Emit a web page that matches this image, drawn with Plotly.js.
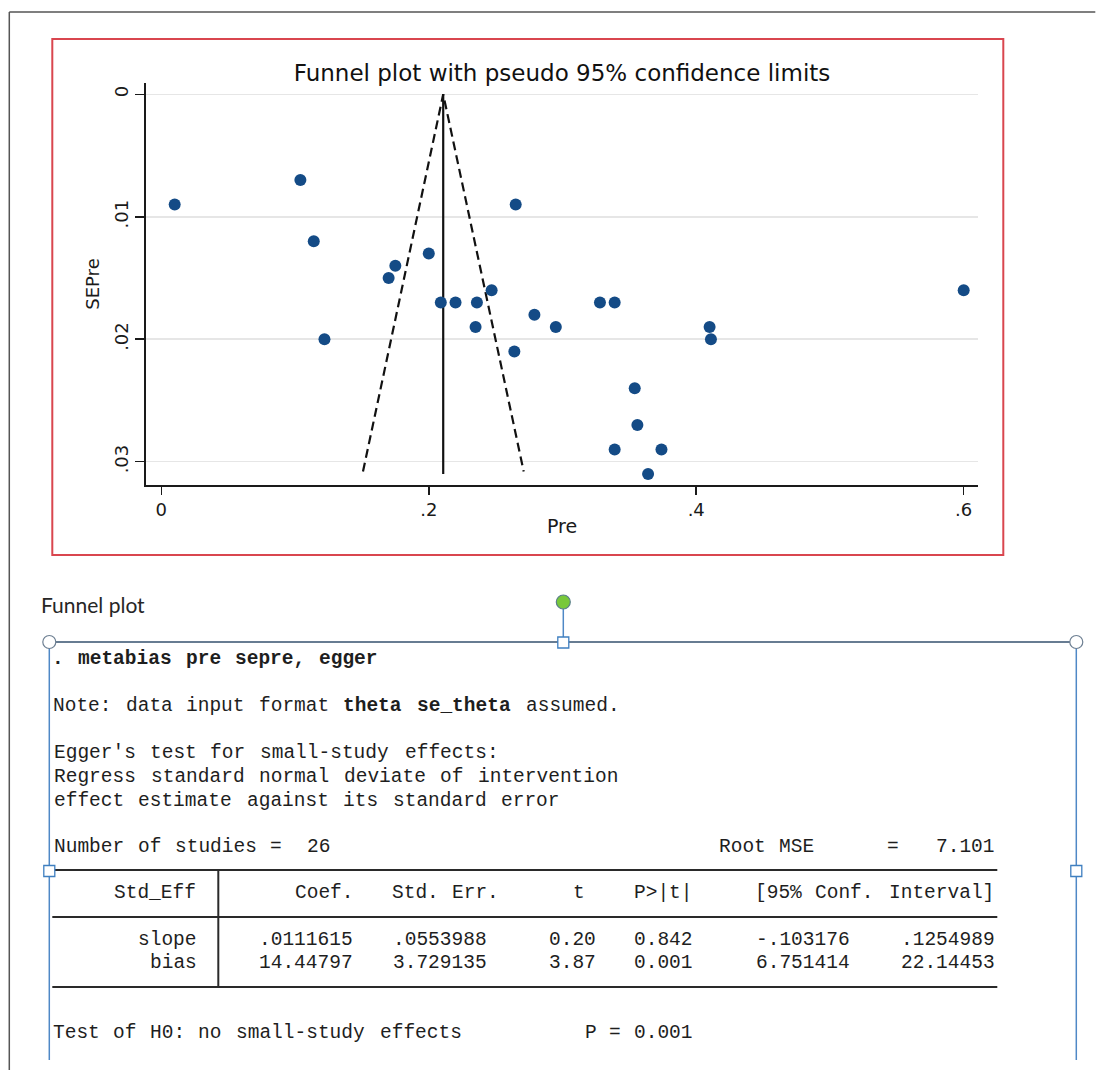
<!DOCTYPE html>
<html><head><meta charset="utf-8">
<script src="https://cdn.plot.ly/plotly-3.0.1.min.js"></script>
<style>html,body{margin:0;padding:0;background:#fff;}#chart{width:1104px;height:1070px;}</style>
</head><body><div id="chart"></div>
<script>
// ---------------- Funnel plot data ----------------
const pre   = [0.010, 0.104, 0.114, 0.122, 0.170, 0.175, 0.200, 0.209, 0.220, 0.236, 0.235, 0.247, 0.265,
               0.264, 0.279, 0.295, 0.328, 0.339, 0.339, 0.354, 0.356, 0.364, 0.374, 0.410, 0.411, 0.600];
const sepre = [0.009, 0.007, 0.012, 0.020, 0.015, 0.014, 0.013, 0.017, 0.017, 0.017, 0.019, 0.016, 0.009,
               0.021, 0.018, 0.019, 0.017, 0.017, 0.029, 0.024, 0.027, 0.031, 0.029, 0.019, 0.020, 0.016];
const funnelLimitX  = [0.1508, 0.2108, 0.2710];
const funnelLimitSE = [0.0308, 0, 0.0308];
const pooledX  = [0.2108, 0.2108];
const pooledSE = [0, 0.0310];
const xTickVals = [0, 0.2, 0.4, 0.6];
const xTickText = ['0', '.2', '.4', '.6'];
const yTickVals = [0, 0.01, 0.02, 0.03];
const yTickText = ['0', '.01', '.02', '.03'];

// ---------------- Egger test output ----------------
const nStudies = '26';
const rootMSE = '7.101';
const headerLabel = 'Std_Eff';
const headerCols = ['Coef.', 'Std. Err.', 't', 'P>|t|', '[95% Conf. Interval]'];
const rowLabels = ['slope', 'bias'];
const coef   = ['.0111615', '14.44797'];
const stdErr = ['.0553988', '3.729135'];
const tStat  = ['0.20', '3.87'];
const pValue = ['0.842', '0.001'];
const ciLow  = ['-.103176', '6.751414'];
const ciHigh = ['.1254989', '22.14453'];
const testP  = '0.001';

// ---------------- geometry helpers (plot area in page pixels) ----------------
const W = 1104, H = 1070;
const L = 145.7, R = 977.7, T = 83, B = 485;
const px = x => (x - L) / (R - L);
const py = y => (B - y) / (B - T);

// monospace text grid of the Stata output
const COL0 = 52, CW = 12.1;
function blank(){ return Array(80).fill(' '); }
function putL(arr, s, col){ for (let i=0;i<s.length;i++) arr[col+i]=s[i]; return arr; }
function putR(arr, s, endCol){ return putL(arr, s, endCol - s.length); }
const textLines = [];
textLines.push({y:659, s:'. metabias pre sepre, egger', bold:'all'});
textLines.push({y:706, s:'Note: data input format theta se_theta assumed.', bold:['theta','se_theta']});
textLines.push({y:753, s:"Egger's test for small-study effects:"});
textLines.push({y:777, s:'Regress standard normal deviate of intervention'});
textLines.push({y:800.5, s:'effect estimate against its standard error'});
{
  let a = blank(); putL(a,'Number of studies =',0); putR(a,nStudies,23);
  putL(a,'Root MSE',55); putL(a,'=',69); putR(a,rootMSE,78);
  textLines.push({y:846.5, s:a.join('')});
}
{
  let a = blank(); putR(a,headerLabel,12);
  const ends = [25,37,44,53,78];
  headerCols.forEach((h,i)=>putR(a,h,ends[i]));
  textLines.push({y:893, s:a.join('')});
}
rowLabels.forEach((lab,r)=>{
  let a = blank(); putR(a,lab,12);
  putR(a,coef[r],25); putR(a,stdErr[r],36); putR(a,tStat[r],45);
  putR(a,pValue[r],53); putR(a,ciLow[r],66); putR(a,ciHigh[r],78);
  textLines.push({y:[940,963.5][r], s:a.join('')});
});
{
  let a = blank(); putL(a,'Test of H0: no small-study effects',0); putL(a,'P = '+testP,44);
  textLines.push({y:1033, s:a.join('')});
}
function esc(t){ return t.replace(/&/g,'&amp;').replace(/</g,'&lt;').replace(/>/g,'&gt;'); }
const annotations = [];
textLines.forEach(line=>{
  const re = /\S+/g; let m;
  while ((m = re.exec(line.s)) !== null) {
    const tok = m[0];
    const isBold = line.bold === 'all' || (Array.isArray(line.bold) && line.bold.includes(tok));
    annotations.push({
      xref:'paper', yref:'paper', showarrow:false,
      x: px(COL0 + (m.index + tok.length/2)*CW), y: py(line.y),
      xanchor:'center', yanchor:'middle',
      text: isBold ? '<b>'+esc(tok)+'</b>' : esc(tok),
      font:{family:'Liberation Mono, monospace', size:19.5, color:'#1e1e1e'}
    });
  }
});
annotations.push({
  xref:'paper', yref:'paper', showarrow:false, x:px(39), y:py(604),
  xanchor:'left', yanchor:'middle', text:'Funnel plot',
  font:{family:'Lato, Noto Sans, sans-serif', size:21, color:'#262626'}
});

// ---------------- decorative shapes ----------------
const shapes = [];
function ln(x0,y0,x1,y1,color,width){ shapes.push({type:'line',xref:'paper',yref:'paper',x0:px(x0),y0:py(y0),x1:px(x1),y1:py(y1),line:{color:color,width:width},layer:'above'}); }
function box(type,x0,y0,x1,y1,color,width,fill){ shapes.push({type:type,xref:'paper',yref:'paper',x0:px(x0),y0:py(y1),x1:px(x1),y1:py(y0),line:{color:color,width:width},fillcolor:fill,layer:'above'}); }
// outer frame
ln(9,12,1095,12,'#555',1.5);
ln(9,12,9,1070,'#555',1.5);
// red frame around graph
box('rect',52,39,1003,555,'#d9464f',2,'rgba(0,0,0,0)');
// table rules
ln(52,870,997,870,'#2a2a2a',2.2);
ln(52,917,997,917,'#2a2a2a',2);
ln(52,987,997,987,'#2a2a2a',2);
ln(218,870,218,987,'#2a2a2a',2);
// selection frame
ln(49,642,1076,642,'#34506e',1.6);
ln(49,642,49,1060,'#4f88c6',1.5);
ln(1076,642,1076,1060,'#4f88c6',1.5);
ln(563,609,563,637,'#4f88c6',1.5);
box('circle',42.5,635.5,55.5,648.5,'#6d7f92',1.2,'#ffffff');
box('circle',1069.5,635.5,1082.5,648.5,'#6d7f92',1.2,'#ffffff');
box('rect',557.5,637,568.5,648,'#3f7fc0',1.3,'#ffffff');
box('rect',43.5,865.5,54.5,876.5,'#3f7fc0',1.3,'#ffffff');
box('rect',1070.5,865.5,1081.5,876.5,'#3f7fc0',1.3,'#ffffff');
box('circle',556,595,570,609,'#5a7f8a',1.2,'#78c83a');

// ---------------- traces ----------------
const traces = [
  {x:funnelLimitX, y:funnelLimitSE, type:'scatter', mode:'lines', hoverinfo:'skip',
   line:{color:'#111', width:2.2, dash:'9px,5px'}, showlegend:false},
  {x:pooledX, y:pooledSE, type:'scatter', mode:'lines', hoverinfo:'skip',
   line:{color:'#111', width:2.2}, showlegend:false},
  {x:pre, y:sepre, type:'scatter', mode:'markers', showlegend:false,
   marker:{color:'#144b86', size:12, line:{width:0}}}
];

const plotFont = 'DejaVu Sans, Liberation Sans, sans-serif';
const layout = {
  width:W, height:H,
  margin:{l:L, r:W-R, t:T, b:H-B, pad:0},
  paper_bgcolor:'#ffffff', plot_bgcolor:'#ffffff',
  showlegend:false,
  font:{family:plotFont, color:'#1a1a1a'},
  title:{text:'Funnel plot with pseudo 95% confidence limits', x:0.5, xref:'paper', xanchor:'center',
         y:1-73/H, yref:'container', yanchor:'middle', font:{family:plotFont, size:23, color:'#111'}},
  xaxis:{range:[-0.01145, 0.6107], tickmode:'array', tickvals:xTickVals, ticktext:xTickText,
         showgrid:false, zeroline:false, showline:true, linecolor:'#1a1a1a', linewidth:1.6,
         ticks:'outside', ticklen:8, tickwidth:1.5, tickcolor:'#1a1a1a',
         tickfont:{family:plotFont, size:18, color:'#1a1a1a'},
         title:{text:'Pre', font:{family:plotFont, size:19, color:'#1a1a1a'}, standoff:0}},
  yaxis:{range:[0.0319, -0.00092], tickmode:'array', tickvals:yTickVals, ticktext:yTickText,
         showgrid:true, gridcolor:'#e6e6e6', gridwidth:1.5, zeroline:false,
         showline:true, linecolor:'#1a1a1a', linewidth:1.6,
         ticks:'outside', ticklen:9, tickwidth:1.5, tickcolor:'#1a1a1a', tickangle:-90,
         tickfont:{family:plotFont, size:18, color:'#1a1a1a'},
         title:{text:'SEPre', font:{family:plotFont, size:18, color:'#1a1a1a'}, standoff:7}},
  shapes:shapes,
  annotations:annotations
};
Plotly.newPlot('chart', traces, layout, {staticPlot:true, displayModeBar:false});
</script>
</body></html>
